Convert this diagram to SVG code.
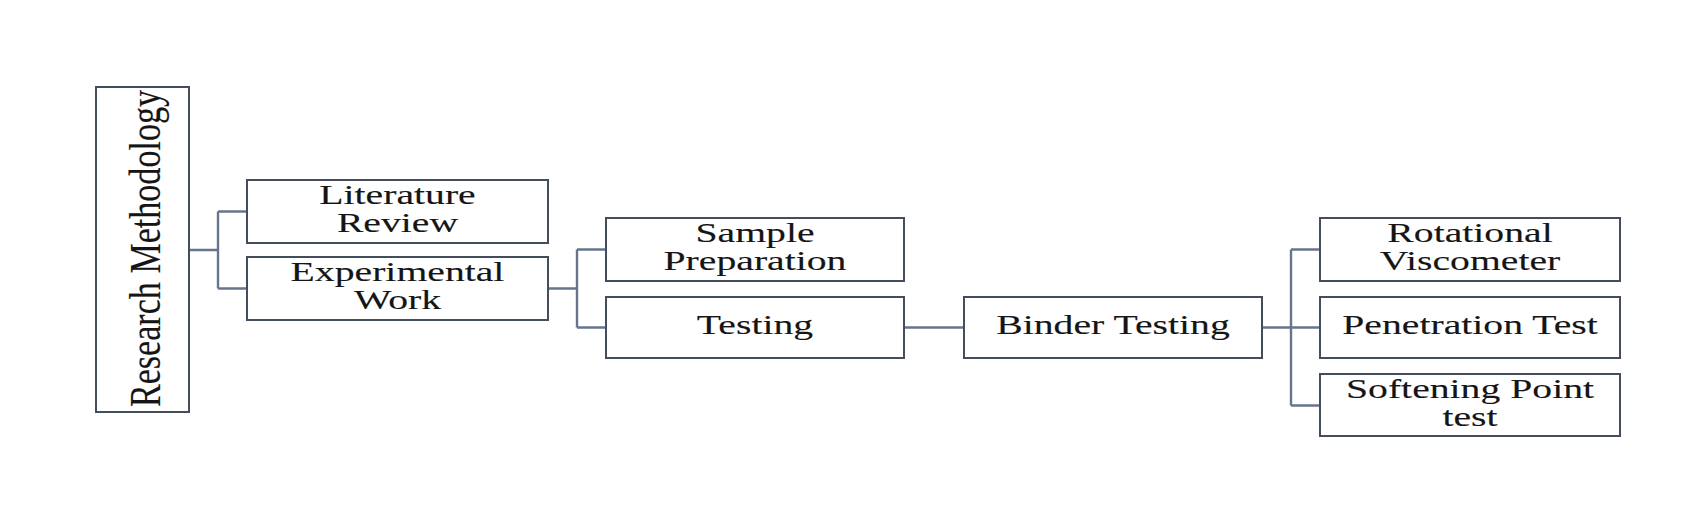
<svg xmlns="http://www.w3.org/2000/svg" width="1687" height="527" viewBox="0 0 1687 527">
<style>
.box{fill:#ffffff;stroke:#434d5b;stroke-width:2}
.conn{fill:none;stroke:#67758a;stroke-width:2.4}
.t{font-family:"Liberation Serif","Times New Roman",serif;font-size:27px;fill:#151515;stroke:#151515;stroke-width:0.12;text-anchor:middle}
.rm{font-family:"Liberation Serif","Times New Roman",serif;font-size:44px;fill:#151515;stroke:#151515;stroke-width:0.15;text-anchor:middle}
</style>
<rect width="1687" height="527" fill="#ffffff"/>
<g id="connectors">
<path class="conn" d="M189 250H218M218 211.5V288.5M218 211.5H247M218 288.5H247"/>
<path class="conn" d="M548 288.5H577M577 249.5V327.5M577 249.5H606M577 327.5H606"/>
<path class="conn" d="M904 327.5H964"/>
<path class="conn" d="M1262 327.5H1291M1291 249.5V405.5M1291 249.5H1320M1291 327.5H1320M1291 405.5H1320"/>
</g>
<g id="node-research-methodology">
<rect class="box" x="96" y="87" width="93" height="325"/>
<text class="rm" transform="translate(160,248.5) rotate(-90)" x="0" y="0" textLength="317" lengthAdjust="spacingAndGlyphs">Research Methodology</text>
</g>
<g id="node-literature-review">
<rect class="box" x="247" y="180" width="301" height="63"/>
<g transform="translate(397.5,0) scale(1.47,1)"><text class="t" x="0" y="204">Literature</text><text class="t" x="0" y="232">Review</text></g>
</g>
<g id="node-experimental-work">
<rect class="box" x="247" y="257" width="301" height="63"/>
<g transform="translate(397.5,0) scale(1.47,1)"><text class="t" x="0" y="281">Experimental</text><text class="t" x="0" y="309">Work</text></g>
</g>
<g id="node-sample-preparation">
<rect class="box" x="606" y="218" width="298" height="63"/>
<g transform="translate(755,0) scale(1.47,1)"><text class="t" x="0" y="242">Sample</text><text class="t" x="0" y="270">Preparation</text></g>
</g>
<g id="node-testing">
<rect class="box" x="606" y="297" width="298" height="61"/>
<g transform="translate(755,0) scale(1.47,1)"><text class="t" x="0" y="334">Testing</text></g>
</g>
<g id="node-binder-testing">
<rect class="box" x="964" y="297" width="298" height="61"/>
<g transform="translate(1113,0) scale(1.47,1)"><text class="t" x="0" y="334">Binder Testing</text></g>
</g>
<g id="node-rotational-viscometer">
<rect class="box" x="1320" y="218" width="300" height="63"/>
<g transform="translate(1470,0) scale(1.47,1)"><text class="t" x="0" y="242">Rotational</text><text class="t" x="0" y="270">Viscometer</text></g>
</g>
<g id="node-penetration-test">
<rect class="box" x="1320" y="297" width="300" height="61"/>
<g transform="translate(1470,0) scale(1.47,1)"><text class="t" x="0" y="334">Penetration Test</text></g>
</g>
<g id="node-softening-point-test">
<rect class="box" x="1320" y="374" width="300" height="62"/>
<g transform="translate(1470,0) scale(1.47,1)"><text class="t" x="0" y="398">Softening Point</text><text class="t" x="0" y="426">test</text></g>
</g>
</svg>
